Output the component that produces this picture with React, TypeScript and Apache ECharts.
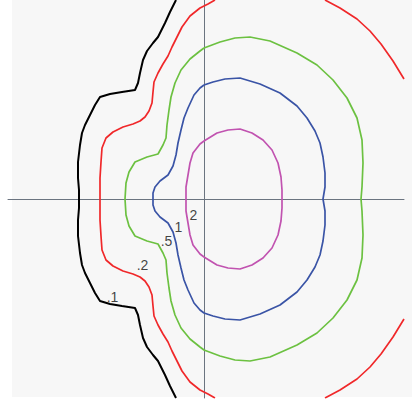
import React, { useEffect, useRef } from "react";
import * as echarts from "echarts";

// Contour level labels
const levelLabels = [".1", ".2", ".5", "1", "2"];

// Label anchor points (data units)
const labelPoints: [number, number, string][] = [
  [-91, -98, ".1"],
  [-61, -66, ".2"],
  [-37, -42, ".5"],
  [-25, -28, "1"],
  [-10, -16, "2"],
];

// Level .1 (black)
const contour01: [number, number][] = [
  [-28, 199], [-34, 187], [-39, 176], [-46, 162], [-51, 156], [-57, 148], [-61, 139],
  [-64, 126], [-66, 116], [-69, 109], [-82, 107], [-94, 105], [-104, 102], [-109, 94],
  [-114, 84], [-119, 74], [-122, 66], [-124, 54], [-126, 37], [-126, 21], [-125, 9],
  [-125, 0],
  [-125, -9], [-126, -21], [-126, -37], [-124, -54], [-122, -66], [-119, -74], [-114, -84],
  [-109, -94], [-104, -102], [-94, -105], [-82, -107], [-69, -109], [-66, -116], [-64, -126],
  [-61, -139], [-57, -148], [-51, -156], [-46, -162], [-39, -176], [-34, -187], [-28, -199],
];

// Level .2 (red), left branch
const contour02Left: [number, number][] = [
  [11, 199], [4, 195], [-4, 191], [-14, 183], [-22, 172], [-27, 162], [-32, 152],
  [-36, 143], [-41, 135], [-46, 126], [-50, 117], [-51, 107], [-52, 96], [-55, 88],
  [-59, 82], [-64, 78], [-71, 75], [-81, 72], [-91, 67], [-98, 61], [-102, 51],
  [-103, 37], [-104, 21], [-104, 9], [-104, 0],
  [-104, -9], [-104, -21], [-103, -37], [-102, -51], [-98, -61], [-91, -67], [-81, -72],
  [-71, -75], [-64, -78], [-59, -82], [-55, -88], [-52, -96], [-51, -107], [-50, -117],
  [-46, -126], [-41, -135], [-36, -143], [-32, -152], [-27, -162], [-22, -172],
  [-14, -183], [-4, -191], [4, -195], [11, -199],
];
// Level .2 (red), right branch top and bottom
const contour02RightTop: [number, number][] = [
  [121, 199], [136, 191], [153, 180], [166, 168], [177, 155], [189, 138], [200, 120],
];
const contour02RightBottom: [number, number][] = [
  [121, -199], [136, -191], [153, -180], [166, -168], [177, -155], [189, -138], [200, -120],
];

// Level .5 (green)
const contour05: [number, number][] = [
  [0, 151], [-4, 148], [-14, 140], [-23, 129], [-29, 116], [-33, 102], [-35, 89],
  [-37, 74], [-38, 61], [-41, 54], [-46, 45], [-57, 42], [-69, 37], [-75, 27],
  [-78, 16], [-79, 0],
  [-78, -16], [-75, -27], [-69, -37], [-57, -42], [-46, -45], [-41, -54], [-38, -61],
  [-37, -74], [-35, -89], [-33, -102], [-29, -116], [-23, -129], [-14, -140], [-4, -148],
  [0, -151],
  [16, -157], [31, -161], [46, -162], [66, -158], [93, -146], [113, -134], [129, -119],
  [143, -101], [153, -81], [158, -59], [159, -36], [158, -12], [157, 0],
  [158, 12], [159, 36], [158, 59], [153, 81], [143, 101], [129, 119], [113, 134],
  [93, 146], [66, 158], [46, 162], [31, 161], [16, 157], [0, 151],
];

// Level 1 (blue)
const contour1: [number, number][] = [
  [0, 114], [-4, 111], [-10, 104], [-16, 91], [-20, 81], [-23, 69], [-26, 56],
  [-28, 44], [-31, 33], [-36, 24], [-44, 18], [-49, 12], [-51, 6], [-51, 0],
  [-51, -6], [-49, -12], [-44, -18], [-36, -24], [-31, -33], [-28, -44], [-26, -56],
  [-23, -69], [-20, -81], [-16, -91], [-10, -104], [-4, -111], [0, -114],
  [9, -117], [21, -120], [36, -121], [56, -115], [76, -106], [93, -93], [103, -81],
  [111, -68], [116, -56], [119, -42], [121, -26], [121, -12], [119, 0],
  [121, 12], [121, 26], [119, 42], [116, 56], [111, 68], [103, 81], [93, 93],
  [76, 106], [56, 115], [36, 121], [21, 120], [9, 117], [0, 114],
];

// Level 2 (magenta)
const contour2: [number, number][] = [
  [0, 58], [-4, 55], [-11, 46], [-14, 36], [-16, 24], [-18, 12], [-18, 0],
  [-18, -12], [-16, -24], [-14, -36], [-11, -46], [-4, -55], [0, -58],
  [13, -66], [24, -69], [36, -70], [48, -66], [59, -59], [68, -49], [74, -36],
  [77, -22], [78, -9], [78, 0],
  [78, 9], [77, 22], [74, 36], [68, 49], [59, 59], [48, 66], [36, 70], [24, 69],
  [13, 66], [0, 58],
];

const COLORS = {
  c01: "#000000",
  c02: "#f0282a",
  c05: "#6cc141",
  c1: "#3a54a6",
  c2: "#c153b0",
};

export default function App() {
  const ref = useRef<HTMLDivElement>(null);

  useEffect(() => {
    if (!ref.current) return;
    const chart = echarts.init(ref.current, undefined, { renderer: "svg" });

    const lineSeries = (data: [number, number][], color: string, width: number) => ({
      type: "line" as const,
      data,
      showSymbol: false,
      symbol: "none",
      smooth: false,
      lineStyle: { color, width },
      itemStyle: { color },
      silent: true,
      z: 3,
    });

    chart.setOption({
      animation: false,
      backgroundColor: "#ffffff",
      grid: { left: 8, top: 0, width: 396, height: 398, containLabel: false },
      xAxis: {
        type: "value",
        min: -196,
        max: 200,
        axisLine: { show: true, onZero: true, lineStyle: { color: "#6b7480", width: 1 } },
        axisTick: { show: false },
        axisLabel: { show: false },
        splitLine: { show: false },
      },
      yAxis: {
        type: "value",
        min: -199,
        max: 199,
        axisLine: { show: true, onZero: true, lineStyle: { color: "#6b7480", width: 1 } },
        axisTick: { show: false },
        axisLabel: { show: false },
        splitLine: { show: false },
      },
      graphic: [
        {
          type: "rect",
          z: -10,
          silent: true,
          shape: { x: 12, y: -3, width: 400, height: 400 },
          style: { fill: "#f7f7f7" },
        },
      ],
      series: [
        lineSeries(contour01, COLORS.c01, 2),
        lineSeries(contour02Left, COLORS.c02, 1.7),
        lineSeries(contour02RightTop, COLORS.c02, 1.7),
        lineSeries(contour02RightBottom, COLORS.c02, 1.7),
        lineSeries(contour05, COLORS.c05, 1.7),
        lineSeries(contour1, COLORS.c1, 1.7),
        lineSeries(contour2, COLORS.c2, 1.7),
        {
          type: "scatter",
          data: labelPoints.map((p) => ({ value: [p[0], p[1]], name: p[2] })),
          symbolSize: 1,
          itemStyle: { color: "rgba(0,0,0,0)" },
          silent: true,
          z: 5,
          label: {
            show: true,
            position: [0, 0],
            align: "center",
            verticalAlign: "middle",
            formatter: (params: any) => params.name,
            color: "#111111",
            textBorderWidth: 0,
            fontSize: 14,
            fontFamily: "Liberation Sans, Arial, sans-serif",
          },
        },
      ],
    });

    void levelLabels;
    return () => chart.dispose();
  }, []);

  return (
    <div
      ref={ref}
      style={{ position: "fixed", left: 0, top: 0, width: 417, height: 402 }}
    />
  );
}
